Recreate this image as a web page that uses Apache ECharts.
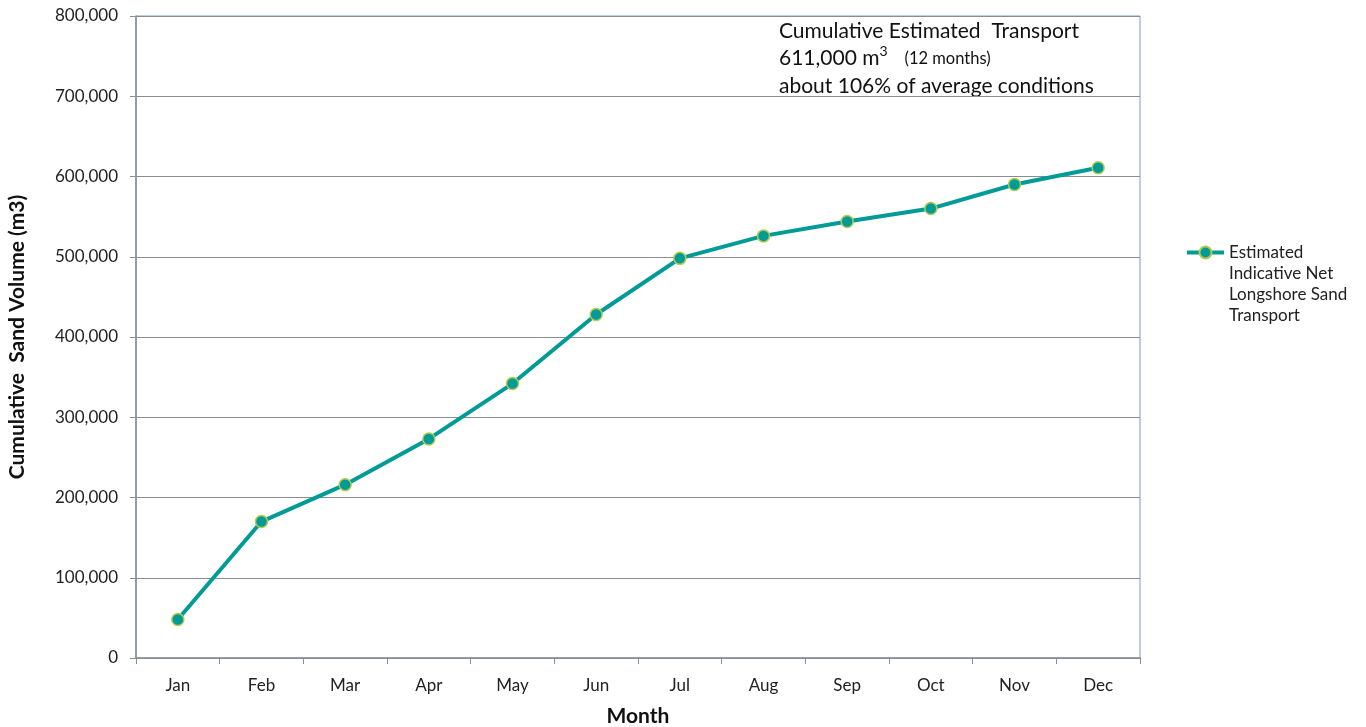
<!DOCTYPE html>
<html><head><meta charset="utf-8">
<script src="https://cdn.jsdelivr.net/npm/echarts@6/dist/echarts.min.js"></script>
<style>html,body{margin:0;padding:0;background:#fff}#c{width:1366px;height:727px}</style>
</head><body><div id="c"></div>
<script>
const months = ['Jan','Feb','Mar','Apr','May','Jun','Jul','Aug','Sep','Oct','Nov','Dec'];
const cumulativeVolume = [48000,170000,216000,273000,342000,428000,498000,526000,544000,560000,590000,611000];
const seriesName = 'Estimated\nIndicative Net\nLongshore Sand\nTransport';
const FONT = 'Lato, "Open Sans", sans-serif';

const chart = echarts.init(document.getElementById('c'), null, {renderer:'canvas'});
chart.setOption({
  animation:false,
  grid:{left:136, right:226, top:16, bottom:69, show:true, borderColor:'#7f9cc8', borderWidth:1,
        containLabel:false, outerBoundsMode:'none'},
  legend:{
    show:true, orient:'vertical', left:1180, top:174,
    itemWidth:37, itemHeight:15, itemGap:0,
    formatter:name => '\n\n\n' + name,
    lineStyle:{width:4},
    textStyle:{fontFamily:FONT, fontSize:17, color:'#222', lineHeight:21},
    data:[{name:seriesName}]
  },
  xAxis:{
    type:'category', data:months, boundaryGap:true,
    name:'Month', nameLocation:'middle', nameGap:48,
    nameTextStyle:{fontFamily:FONT, fontSize:21, fontWeight:'bold', color:'#111'},
    axisLine:{lineStyle:{color:'#888e96', width:1.5}},
    axisTick:{show:true, length:6, inside:false, lineStyle:{color:'#888e96'}},
    axisLabel:{fontFamily:FONT, fontSize:17, color:'#222', margin:19},
    splitLine:{show:false}
  },
  yAxis:{
    type:'value', min:0, max:800000, interval:100000,
    name:'Cumulative  Sand Volume (m3)', nameLocation:'middle', nameGap:108, nameRotate:90,
    nameTextStyle:{fontFamily:FONT, fontSize:21, fontWeight:'bold', color:'#111'},
    axisLine:{show:true, lineStyle:{color:'#888e96', width:1.5}},
    axisTick:{show:true, length:6, lineStyle:{color:'#888e96'}},
    axisLabel:{fontFamily:FONT, fontSize:17, color:'#222', margin:18,
      formatter:v=>v.toLocaleString('en-US')},
    splitLine:{show:true, lineStyle:{color:'#8c8c8c', width:1.2}}
  },
  series:[{
    name:seriesName, type:'line', data:cumulativeVolume,
    symbol:'circle', symbolSize:12,
    lineStyle:{color:'#009b96', width:4},
    itemStyle:{color:'#009b96', borderColor:'#b5c94f', borderWidth:1.5}
  }],
  graphic:[{
    type:'text', left:779, top:17,
    style:{
      text:'Cumulative Estimated  Transport\n{a|611,000 m}{sup|3}{s|    (12 months)}\nabout 106% of average conditions',
      fontFamily:FONT, fontSize:21, lineHeight:27.5, fill:'#111',
      rich:{
        a:{fontFamily:FONT, fontSize:21, fill:'#111'},
        sup:{fontFamily:FONT, fontSize:14, fill:'#111', verticalAlign:'top', padding:[0,0,8,0]},
        s:{fontFamily:FONT, fontSize:16.5, fill:'#111'}
      }
    }
  }]
});
</script></body></html>
